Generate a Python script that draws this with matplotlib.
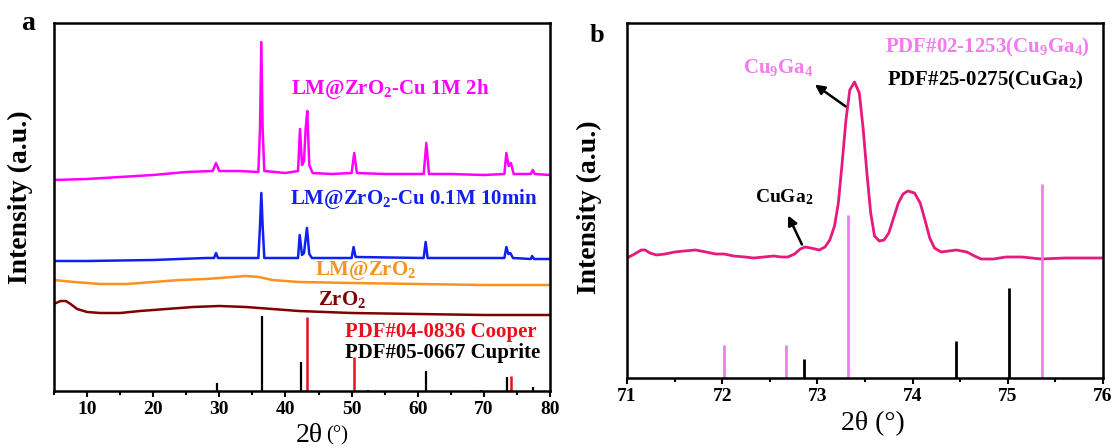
import numpy as np
import matplotlib
matplotlib.use("Agg")
import matplotlib.pyplot as plt
from matplotlib.ticker import MultipleLocator

plt.rcParams['font.family'] = ['Liberation Serif', 'DejaVu Serif']
plt.rcParams['font.weight'] = 'bold'
plt.rcParams['mathtext.default'] = 'regular'

# ---------------- panel a data (2theta, intensity a.u.) ----------------
cu1m_x = [5, 10, 15, 20, 25, 29.0, 29.5, 30.0, 33, 35.9, 36.15, 36.35, 36.55, 36.8, 40, 41.9, 42.2, 42.5,
          42.8, 43.05, 43.3, 43.6, 44.1, 47, 50.0, 50.4, 50.8, 55, 60.9, 61.3, 61.7, 65, 70, 73.1, 73.4,
          73.75, 74.1, 74.5, 77.1, 77.4, 77.7, 80]
cu1m_y = [211, 212, 214, 216, 219, 220, 228, 220, 220, 219, 262, 349, 262, 220, 218, 220, 262, 226,
          230, 262, 280, 226, 218, 217, 218, 238, 218, 217, 217, 248, 217, 217, 216, 217, 238,
          225, 228, 217, 217, 221, 217, 216]

cu01_x = [5, 10, 20, 28, 29.2, 29.5, 29.8, 35.9, 36.15, 36.35, 36.55, 36.8, 41.9, 42.15, 42.5, 42.8, 43.25,
          43.6, 44.0, 50.0, 50.3, 50.6, 60.9, 61.2, 61.5, 73.1, 73.4, 73.7, 74.0, 74.4, 77.1, 77.3, 77.6, 80]
cu01_y = [130, 130, 131, 133, 133, 138, 133, 133, 165, 198, 165, 133, 133, 156, 136, 138, 163,
          137, 133, 133, 144, 134, 133, 149, 133, 133, 144, 137, 138, 133, 132, 135, 132, 132]

lmzr_x = [5, 8, 12, 16, 20, 24, 28, 32, 34, 36, 38, 42, 50, 60, 70, 80]
lmzr_y = [111, 109, 107, 107, 109, 111, 112, 114, 115, 114, 111, 109, 108, 107, 106, 106]

zro2_x = [5.3, 6.0, 6.8, 7.5, 8.5, 10, 12, 15, 18, 22, 26, 30, 34, 38, 42, 50, 60, 70, 80]
zro2_y = [88, 90, 90, 87, 82, 79, 78, 78, 80, 82, 84, 85, 84, 82, 80, 78, 77, 76, 76]

cuprite_pos = [29.6, 36.4, 42.3, 52.5, 61.3, 69.6, 73.5, 77.4]
cuprite_h = [8, 75, 29, 1, 20, 1, 14, 4]
copper_pos = [43.3, 50.4, 74.1]
copper_h = [74, 34, 15]

# ---------------- panel b data ----------------
b_x = [71.0, 71.08, 71.15, 71.19, 71.24, 71.31, 71.4, 71.5, 71.6, 71.72, 71.83, 71.93, 72.02, 72.12,
       72.24, 72.33, 72.44, 72.54, 72.62, 72.69, 72.76, 72.82, 72.87, 72.93, 73.02, 73.08, 73.13,
       73.18, 73.22, 73.26, 73.3, 73.34, 73.39, 73.44, 73.48, 73.52, 73.56, 73.6, 73.65, 73.7,
       73.75, 73.8, 73.85, 73.9, 73.95, 74.02, 74.08, 74.13, 74.18, 74.23, 74.3, 74.38, 74.46,
       74.57, 74.65, 74.72, 74.85, 74.98, 75.15, 75.35, 75.6, 75.8, 76.0]
b_y = [120, 124, 128, 128, 125, 123, 124, 126, 127, 128, 126, 124, 124, 122,
       121, 120, 121, 122, 121, 121, 124, 129, 131, 130, 128, 131, 138,
       152, 175, 215, 258, 288, 296, 285, 250, 205, 165, 142, 137, 138,
       145, 160, 175, 184, 187, 185, 175, 158, 140, 130, 126, 127, 128,
       126, 122, 119, 119, 121, 121, 119, 120, 120, 120]

cu9ga4_pos = [72.02, 72.67, 73.32, 75.36]
cu9ga4_h = [33, 33, 163, 194]
cuga2_pos = [72.86, 74.46, 75.01]
cuga2_h = [19, 37, 90]

fig = plt.figure(figsize=(11.16, 4.48), dpi=100)
W, H = 1116, 448

def tick_style(ax):
    for s in ax.spines.values():
        s.set_linewidth(1.8)
    ax.tick_params(axis='x', which='major', direction='out', length=4, width=1.5, labelsize=14, pad=3)
    ax.tick_params(axis='x', which='minor', direction='out', length=3, width=1.5)
    ax.set_yticks([])

# panel a
ax1 = fig.add_axes([54 / W, 1 - 391 / H, 496 / W, 368 / H])
ax1.plot(cu1m_x, cu1m_y, color='#FF00FF', lw=1.8)
ax1.plot(cu01_x, cu01_y, color='#1020F0', lw=1.8)
ax1.plot(lmzr_x, lmzr_y, color='#F7931E', lw=1.8)
ax1.plot(zro2_x, zro2_y, color='#800000', lw=1.8)
ax1.vlines(cuprite_pos, 0, cuprite_h, color='black', lw=1.6)
ax1.vlines(copper_pos, 0, copper_h, color='#E8101C', lw=1.8)
ax1.set_xlim(5, 80)
ax1.set_ylim(0, 368)
ax1.xaxis.set_major_locator(MultipleLocator(10))
ax1.xaxis.set_minor_locator(MultipleLocator(5))
tick_style(ax1)
ax1.set_xticks([10, 20, 30, 40, 50, 60, 70, 80])

ax1.text(40.8, 302, 'LM@ZrO$_2$-Cu 1M 2h', color='#FF00FF', fontsize=15, va='center')
ax1.text(40.7, 192, 'LM@ZrO$_2$-Cu 0.1M 10min', color='#1020F0', fontsize=15, va='center')
ax1.text(44.5, 121, 'LM@ZrO$_2$', color='#F7931E', fontsize=15, va='center')
ax1.text(44.9, 91, 'ZrO$_2$', color='#800000', fontsize=15, va='center')
ax1.text(49.0, 59, 'PDF#04-0836 Cooper', color='#E8101C', fontsize=15, va='center')
ax1.text(49.0, 38, 'PDF#05-0667 Cuprite', color='black', fontsize=15, va='center')

# panel b
ax2 = fig.add_axes([627 / W, 1 - 378 / H, 476 / W, 355 / H])
ax2.plot(b_x, b_y, color='#E6197D', lw=2)
ax2.vlines(cu9ga4_pos, 0, cu9ga4_h, color='#F07CF0', lw=2)
ax2.vlines(cuga2_pos, 0, cuga2_h, color='black', lw=2)
ax2.set_xlim(71, 76)
ax2.set_ylim(0, 355)
ax2.xaxis.set_major_locator(MultipleLocator(1))
ax2.xaxis.set_minor_locator(MultipleLocator(0.5))
tick_style(ax2)

ax2.text(73.71, 331, 'PDF#02-1253(Cu$_9$Ga$_4$)', color='#F07CF0', fontsize=15, va='center')
ax2.text(73.73, 298, 'PDF#25-0275(CuGa$_2$)', color='black', fontsize=15, va='center')
ax2.text(72.22, 310, 'Cu$_9$Ga$_4$', color='#F07CF0', fontsize=15, va='center')
ax2.text(72.34, 181, 'CuGa$_2$', color='black', fontsize=14, va='center')
ax2.annotate('', xy=(72.95, 295), xytext=(73.32, 270),
             arrowprops=dict(arrowstyle='-|>', color='black', lw=1.8, mutation_scale=14))
ax2.annotate('', xy=(72.68, 165), xytext=(72.85, 131),
             arrowprops=dict(arrowstyle='-|>', color='black', lw=1.8, mutation_scale=14))

# labels
fig.text(20 / W, 1 - 197 / H, 'Intensity (a.u.)', rotation=90, fontsize=20, ha='center', va='center')
fig.text(589 / W, 1 - 207 / H, 'Intensity (a.u.)', rotation=90, fontsize=20, ha='center', va='center')
fig.text(323 / W, 1 - 435 / H, '2θ', fontsize=20, fontweight='normal', ha='right', va='center')
fig.text(326 / W, 1 - 436 / H, '(°)', fontsize=15, fontweight='normal', ha='left', va='center')
fig.text(873 / W, 1 - 424 / H, '2θ (°)', fontsize=20, fontweight='normal', ha='center', va='center')
fig.text(28 / W, 1 - 24 / H, 'a', fontsize=20, ha='center', va='center')
fig.text(597 / W, 1 - 35 / H, 'b', fontsize=19, ha='center', va='center')

fig.savefig('out.png', dpi=100)
